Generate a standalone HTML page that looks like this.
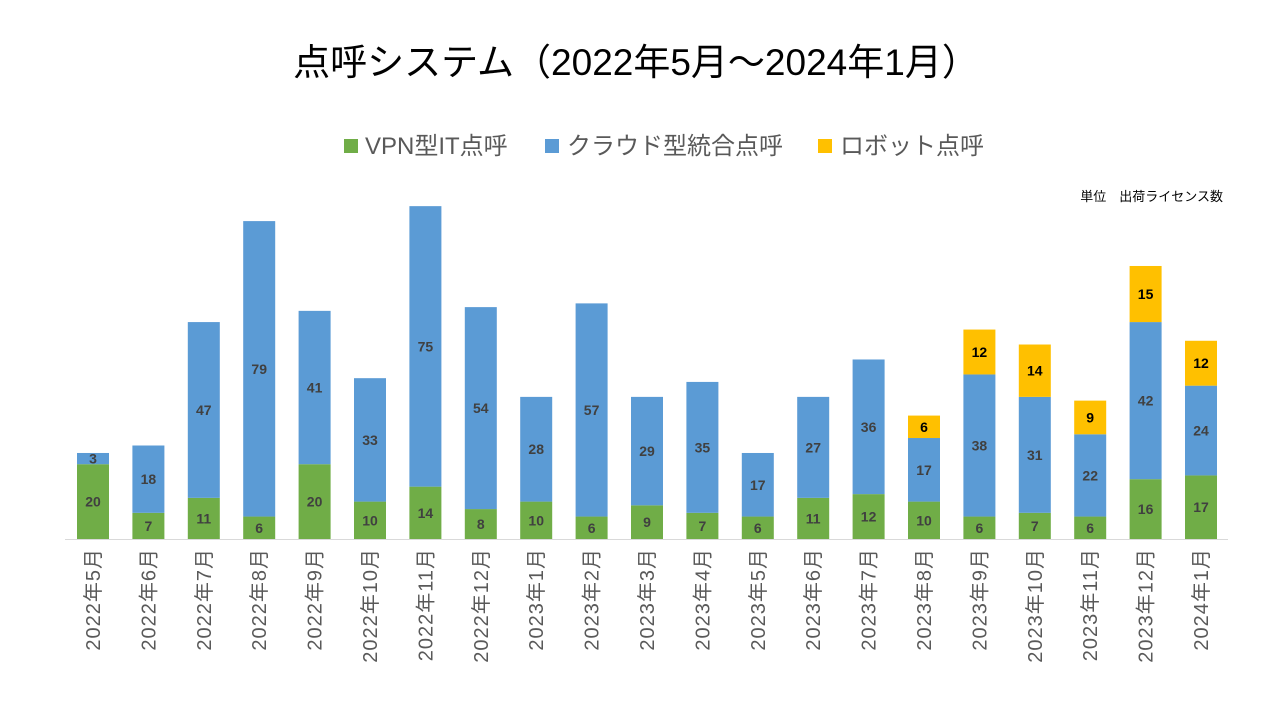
<!DOCTYPE html>
<html><head><meta charset="utf-8">
<style>
body{margin:0;background:#fff;}
svg text{font-family:"Liberation Sans","Noto Sans CJK JP",sans-serif;}
</style></head>
<body>
<svg id="c" width="1280" height="720" xmlns="http://www.w3.org/2000/svg">
<text x="636" y="75" text-anchor="middle" font-size="37" fill="#000">点呼システム（2022年5月～2024年1月）</text>
<g>
<rect x="344" y="139" width="14" height="14" fill="#70AD47"/>
<text x="365" y="154" font-size="24" fill="#595959">VPN型IT点呼</text>
<rect x="545" y="139" width="14" height="14" fill="#5B9BD5"/>
<text x="567" y="154" font-size="24" fill="#595959">クラウド型統合点呼</text>
<rect x="818" y="139" width="14" height="14" fill="#FFC000"/>
<text x="840" y="154" font-size="24" fill="#595959">ロボット点呼</text>
</g>
<text x="1223" y="201" text-anchor="end" font-size="13" fill="#000">単位　出荷ライセンス数</text>
<line x1="65" y1="539.5" x2="1228" y2="539.5" stroke="#d9d9d9" stroke-width="1"/>
<g id="bars"></g>
</svg>
<script>
const categories=["2022年5月","2022年6月","2022年7月","2022年8月","2022年9月","2022年10月","2022年11月","2022年12月","2023年1月","2023年2月","2023年3月","2023年4月","2023年5月","2023年6月","2023年7月","2023年8月","2023年9月","2023年10月","2023年11月","2023年12月","2024年1月"];
const vpn=[20,7,11,6,20,10,14,8,10,6,9,7,6,11,12,10,6,7,6,16,17];
const cloud=[3,18,47,79,41,33,75,54,28,57,29,35,17,27,36,17,38,31,22,42,24];
const robot=[0,0,0,0,0,0,0,0,0,0,0,0,0,0,0,6,12,14,9,15,12];
const series=[{name:"vpn",data:vpn,color:"#70AD47",label:"#404040"},{name:"cloud",data:cloud,color:"#5B9BD5",label:"#404040"},{name:"robot",data:robot,color:"#FFC000",label:"#000"}];
const NS="http://www.w3.org/2000/svg";
const g=document.getElementById("bars");
const y0=539, pxPerUnit=3.74, x0=93, step=55.4, bw=32;
const yScale=v=>v*pxPerUnit;
const xScale=i=>x0+i*step;
categories.forEach((cat,i)=>{
  let acc=0;
  const cx=xScale(i);
  series.forEach(s=>{
    const v=s.data[i];
    if(!v) return;
    const top=y0-yScale(acc+v), h=yScale(v);
    const r=document.createElementNS(NS,"rect");
    r.setAttribute("x",cx-bw/2);r.setAttribute("y",top);r.setAttribute("width",bw);r.setAttribute("height",h);r.setAttribute("fill",s.color);
    
    
    g.appendChild(r);
    const t=document.createElementNS(NS,"text");
    t.setAttribute("x",cx);t.setAttribute("y",top+h/2+5);t.setAttribute("text-anchor","middle");t.setAttribute("font-size","14");t.setAttribute("font-weight","bold");t.setAttribute("fill",s.label);
    t.textContent=v;
    
    
    g.appendChild(t);
    acc+=v;
  });
  const lt=document.createElementNS(NS,"text");
  lt.setAttribute("transform","translate("+(cx+7)+",548) rotate(-90)");
  lt.setAttribute("text-anchor","end");lt.setAttribute("font-size","20");lt.setAttribute("letter-spacing","1");lt.setAttribute("fill","#595959");
  lt.textContent=cat;
  
  
  g.appendChild(lt);
});
</script>
</body></html>
